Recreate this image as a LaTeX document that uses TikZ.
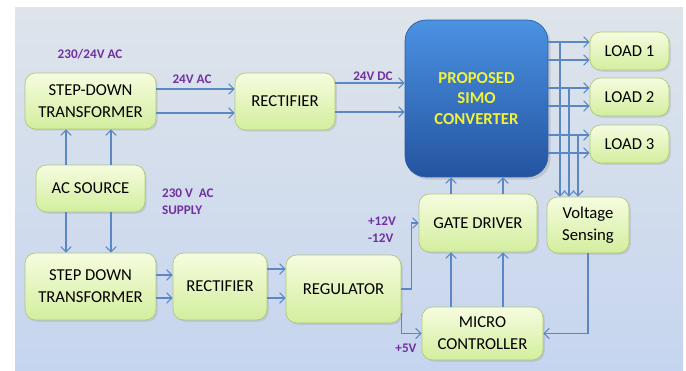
\documentclass[tikz,border=0pt]{standalone}
\usepackage{fontspec}
\setmainfont{Carlito}
\usetikzlibrary{arrows.meta,shadows}

\definecolor{bgtop}{HTML}{DEE4EA}
\definecolor{bgbot}{HTML}{C6D5EF}
\definecolor{blktop}{HTML}{F6FCDF}
\definecolor{blkbot}{HTML}{D3EE9E}
\definecolor{blkline}{HTML}{AFC97A}
\definecolor{simotop}{HTML}{4A92E2}
\definecolor{simobot}{HTML}{2454A0}
\definecolor{simoline}{HTML}{2C5EA6}
\definecolor{simotext}{HTML}{F2F23A}
\definecolor{wirec}{HTML}{5B87C5}
\definecolor{lbl}{HTML}{7030A0}

\tikzset{
  blk/.style={draw=blkline, rounded corners=6pt, top color=blktop, bottom color=blkbot,
    align=center, inner sep=2pt, font=\fontsize{9.5}{12.5}\selectfont,
    drop shadow={opacity=0.2, shadow xshift=1pt, shadow yshift=-1pt}},
  conv/.style={draw=simoline, rounded corners=12pt, top color=simotop, bottom color=simobot,
    align=center, text=simotext, font=\bfseries\fontsize{9.5}{11.6}\selectfont,
    drop shadow={opacity=0.25, shadow xshift=1.5pt, shadow yshift=-1.5pt}},
  tag/.style={text=lbl, inner sep=1pt, font=\bfseries\fontsize{7.5}{9.5}\selectfont},
  wire/.style={draw=wirec, line width=0.6pt, ->}
}

\begin{document}
\begin{tikzpicture}[x=0.02cm,y=-0.02cm,>={Straight Barb[length=3pt,width=6pt]}]
\useasboundingbox (0,0) rectangle (686,371);
\shade[top color=bgtop, bottom color=bgbot] (15,8) rectangle (683,371);

% blocks
\node[blk, minimum width=2.62cm, minimum height=1.12cm] (sdtA) at (90.5,101) {STEP-DOWN\\TRANSFORMER};
\node[blk, minimum width=2.0cm, minimum height=1.14cm] (rectA) at (285,101.5) {RECTIFIER};
\node[blk, minimum width=2.18cm, minimum height=0.94cm] (acsrc) at (90.5,188.5) {AC SOURCE};
\node[blk, minimum width=2.62cm, minimum height=1.34cm] (sdtB) at (90.5,286.5) {STEP DOWN\\TRANSFORMER};
\node[blk, minimum width=1.88cm, minimum height=1.34cm] (rectB) at (220,286.5) {RECTIFIER};
\node[blk, minimum width=2.30cm, minimum height=1.36cm] (reg) at (343.5,289) {REGULATOR};
\node[blk, minimum width=2.36cm, minimum height=1.16cm] (gate) at (478,223) {GATE DRIVER};
\node[blk, minimum width=1.64cm, minimum height=1.12cm] (vsense) at (588,225) {Voltage\\Sensing};
\node[blk, minimum width=2.42cm, minimum height=1.06cm] (micro) at (482.5,333.5) {MICRO\\CONTROLLER};
\node[conv, minimum width=2.86cm, minimum height=3.14cm] (simo) at (476.5,98.5) {PROPOSED\\SIMO\\CONVERTER};
\foreach \n/\y in {1/51,2/97,3/144}
{
    \node[blk, minimum width=1.58cm, minimum height=0.76cm] (load\n) at (629.5,\y) {LOAD \n};
}

% labels
\node[tag] (lblA) at (90,54) {230/24V AC};
\node[tag] (lblB) at (192,79) {24V AC};
\node[tag] (lblC) at (373,76) {24V DC};
\node[tag, align=left, anchor=west] (lblD) at (160,202) {230 V\ \ AC\\SUPPLY};
\node[tag, align=left, anchor=east] (lblE) at (398,230) {+12V\\-12V};
\node[tag] (lblF) at (406,348) {+5V};

% connectors
\foreach \s in {.24cm,-.24cm}
{
    \draw[wire] ([yshift=\s]sdtA.east) -- ([yshift=\s]sdtA.east -| rectA.west);
}
\foreach \s in {.37cm,-.21cm}
{
    \draw[wire] ([yshift=\s]rectA.east) -- ([yshift=\s]rectA.east -| simo.west);
}
\foreach \s in {-.49cm,.41cm}
{
    \draw[wire] ([xshift=\s]acsrc.north) -- ([xshift=\s]sdtA.south);
    \draw[wire] ([xshift=\s]acsrc.south) -- ([xshift=\s]sdtB.north);
}
\foreach \s in {.23cm,-.23cm}
{
    \draw[wire] ([yshift=\s]sdtB.east) -- ([yshift=\s]sdtB.east -| rectB.west);
}
\foreach \s in {.35cm,-.23cm}
{
    \draw[wire] ([yshift=\s]rectB.east) -- ([yshift=\s]rectB.east -| reg.west);
}
\draw[wire] (reg.east) -- ++(10,0) |- (gate.west);
\draw[wire] ([yshift=.2cm]reg.south east) |- (micro.west);
\foreach \s in {-.63cm,.41cm}
{
    \draw[wire] ([xshift=\s]micro.north) -- ([xshift=\s]micro.north |- gate.south);
}
\foreach \s in {-.54cm,.5cm}
{
    \draw[wire] ([xshift=\s]gate.north) -- ([xshift=\s]gate.north |- simo.south);
}
\draw[wire] (vsense.south) |- (micro.east);
\foreach \n in {1,2,3}
{
    \draw[wire] ([yshift=.18cm]load\n.west -| simo.east) -- ([yshift=.18cm]load\n.west);
    \draw[wire] ([yshift=-.18cm]load\n.west -| simo.east) -- ([yshift=-.18cm]load\n.west);
}
% taps to voltage sensing
\coordinate (tap1) at (560,43);
\coordinate (tap2) at (569,89);
\coordinate (tap3) at (578,135);
\foreach \n in {1,2,3}
{
    \draw[wire] (tap\n) -- (tap\n |- vsense.north);
}
\end{tikzpicture}
\end{document}
